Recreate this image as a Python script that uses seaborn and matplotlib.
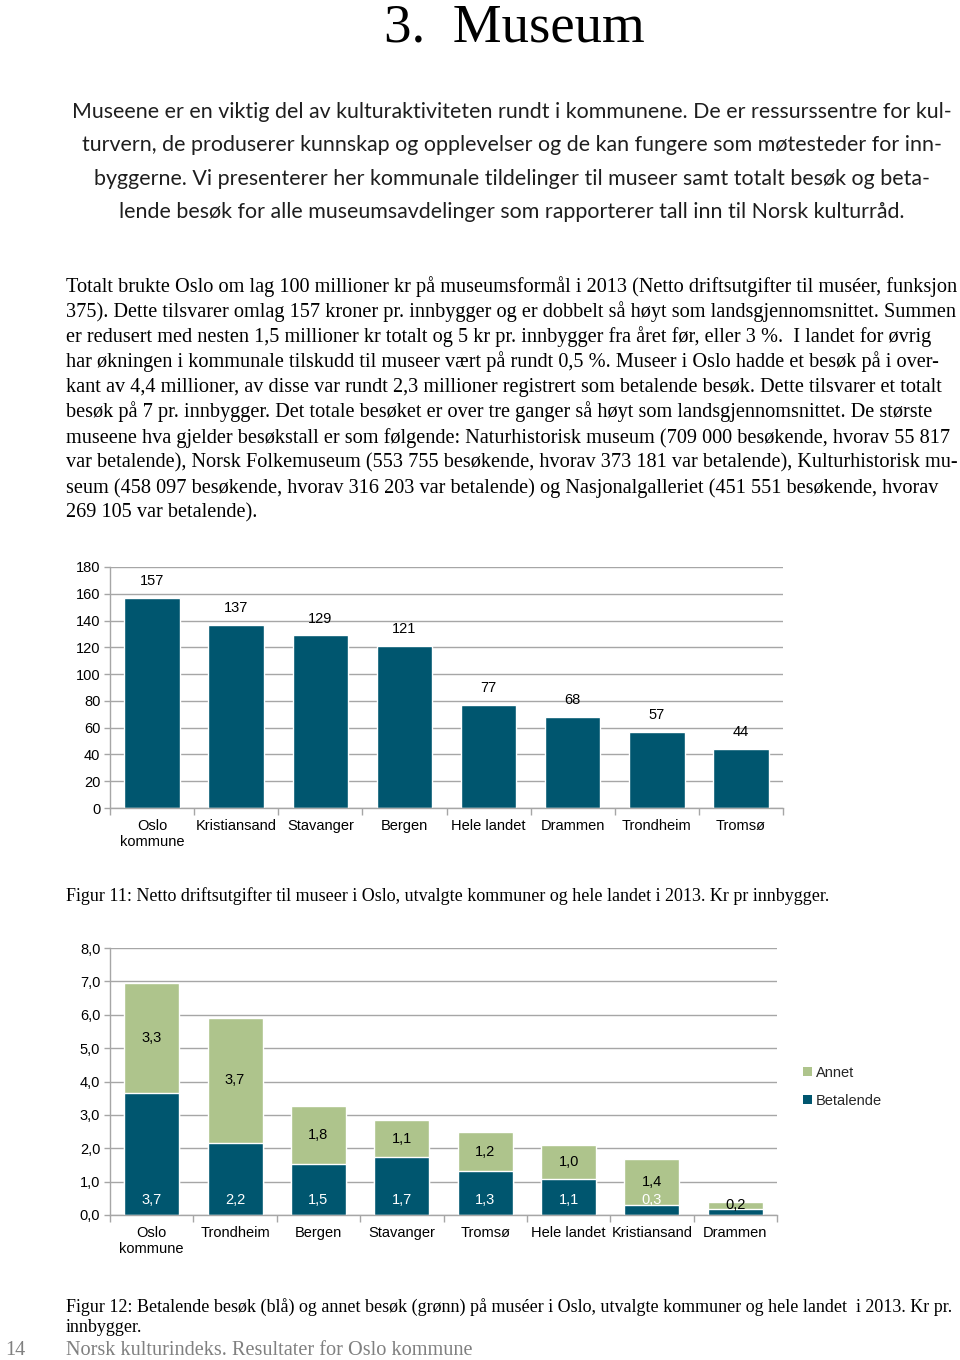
import matplotlib
matplotlib.use("Agg")
import matplotlib.pyplot as plt
from matplotlib.patches import Patch
from matplotlib.ticker import FixedLocator
import seaborn as sns
import pandas as pd

# ---------------- data ----------------
fig1_categories = ["Oslo\nkommune", "Kristiansand", "Stavanger", "Bergen",
                   "Hele landet", "Drammen", "Trondheim", "Tromsø"]
fig1_values = [157, 137, 129, 121, 77, 68, 57, 44]
fig1_yticks = [0, 20, 40, 60, 80, 100, 120, 140, 160, 180]

fig2_categories = ["Oslo\nkommune", "Trondheim", "Bergen", "Stavanger",
                   "Tromsø", "Hele landet", "Kristiansand", "Drammen"]
fig2_betalende = [3.66, 2.17, 1.52, 1.73, 1.31, 1.08, 0.31, 0.18]
fig2_annet = [3.30, 3.72, 1.76, 1.12, 1.18, 1.03, 1.38, 0.22]
fig2_yticks = [0, 1, 2, 3, 4, 5, 6, 7, 8]
fig2_series = ["Annet", "Betalende"]

title_text = "3.  Museum"
intro_lines = [
    "Museene er en viktig del av kulturaktiviteten rundt i kommunene. De er ressurssentre for kul-",
    "turvern, de produserer kunnskap og opplevelser og de kan fungere som møtesteder for inn-",
    "byggerne. Vi presenterer her kommunale tildelinger til museer samt totalt besøk og beta-",
    "lende besøk for alle museumsavdelinger som rapporterer tall inn til Norsk kulturråd.",
]
body_lines = [
    "Totalt brukte Oslo om lag 100 millioner kr på museumsformål i 2013 (Netto driftsutgifter til muséer, funksjon",
    "375). Dette tilsvarer omlag 157 kroner pr. innbygger og er dobbelt så høyt som landsgjennomsnittet. Summen",
    "er redusert med nesten 1,5 millioner kr totalt og 5 kr pr. innbygger fra året før, eller 3 %.  I landet for øvrig",
    "har økningen i kommunale tilskudd til museer vært på rundt 0,5 %. Museer i Oslo hadde et besøk på i over-",
    "kant av 4,4 millioner, av disse var rundt 2,3 millioner registrert som betalende besøk. Dette tilsvarer et totalt",
    "besøk på 7 pr. innbygger. Det totale besøket er over tre ganger så høyt som landsgjennomsnittet. De største",
    "museene hva gjelder besøkstall er som følgende: Naturhistorisk museum (709 000 besøkende, hvorav 55 817",
    "var betalende), Norsk Folkemuseum (553 755 besøkende, hvorav 373 181 var betalende), Kulturhistorisk mu-",
    "seum (458 097 besøkende, hvorav 316 203 var betalende) og Nasjonalgalleriet (451 551 besøkende, hvorav",
    "269 105 var betalende).",
]
caption1 = "Figur 11: Netto driftsutgifter til museer i Oslo, utvalgte kommuner og hele landet i 2013. Kr pr innbygger."
caption2_lines = [
    "Figur 12: Betalende besøk (blå) og annet besøk (grønn) på muséer i Oslo, utvalgte kommuner og hele landet  i 2013. Kr pr.",
    "innbygger.",
]
footer_page = "14"
footer_text = "Norsk kulturindeks. Resultater for Oslo kommune"

# ---------------- style ----------------
BLUE = "#00566F"
GREEN = "#AEC48C"
GRID = "#A6A6A6"
W, H = 960, 1360

sns.set_theme(style="white")
plt.rcParams["font.family"] = ["Liberation Sans", "DejaVu Sans"]

fig = plt.figure(figsize=(W / 100, H / 100), dpi=100)
fig.patch.set_facecolor("white")
renderer = fig.canvas.get_renderer()


def fx(px):
    return px / W


def fy(py):
    return 1 - py / H


def fit_size(text, family, target_px, weight="normal", base=20.0):
    t = fig.text(0, 0, text, fontsize=base, family=family, weight=weight)
    w = t.get_window_extent(renderer).width
    t.remove()
    return base * target_px / w


SERIF = ["Liberation Serif", "DejaVu Serif"]

# ---------------- title ----------------
fig.text(fx(514), fy(41), title_text, family=SERIF, fontsize=39.5,
         ha="center", va="baseline", color="black")

# ---------------- intro (centered sans) ----------------
INTRO_FAM = ["Lato", "DejaVu Sans"]
intro_fs = fit_size(intro_lines[0], INTRO_FAM, 881)
for i, line in enumerate(intro_lines):
    fig.text(fx(512), fy(118 + i * 33.3), line, family=INTRO_FAM,
             fontsize=intro_fs, ha="center", va="baseline", color="#1e1e1e")

# ---------------- body (serif, left) ----------------
body_fs = fit_size(body_lines[0], SERIF, 890)
for i, line in enumerate(body_lines):
    fig.text(fx(66), fy(292 + i * 25.1), line, family=SERIF, fontsize=body_fs,
             ha="left", va="baseline", color="black")

# ---------------- chart 1 ----------------
ax1 = fig.add_axes([fx(110), fy(808), (783 - 110) / W, (808 - 567) / H])
df1 = pd.DataFrame({"kommune": fig1_categories, "kr": fig1_values})
sns.barplot(data=df1, x="kommune", y="kr", order=fig1_categories, color=BLUE,
            saturation=1, width=0.66, ax=ax1)
ax1.set_xlim(-0.5, len(fig1_categories) - 0.5)
ax1.set_ylim(0, 180)
ax1.set_yticks(fig1_yticks)
ax1.set_yticklabels([str(v) for v in fig1_yticks])
for i, v in enumerate(fig1_values):
    ax1.annotate(str(v), (i, v), xytext=(0, 12), textcoords="offset points",
                 ha="center", va="center", fontsize=10.5, color="black")

# ---------------- chart 2 ----------------
ax2 = fig.add_axes([fx(110), fy(1215), (777 - 110) / W, (1215 - 948) / H])
totals = [b + a for b, a in zip(fig2_betalende, fig2_annet)]
df2 = pd.DataFrame({"kommune": fig2_categories, "total": totals,
                    "betalende": fig2_betalende, "annet": fig2_annet})
sns.barplot(data=df2, x="kommune", y="total", order=fig2_categories, color=GREEN,
            saturation=1, width=0.66, ax=ax2)
sns.barplot(data=df2, x="kommune", y="betalende", order=fig2_categories, color=BLUE,
            saturation=1, width=0.66, ax=ax2)
ax2.set_xlim(-0.5, len(fig2_categories) - 0.5)
ax2.set_ylim(0, 8)
ax2.set_yticks(fig2_yticks)
ax2.set_yticklabels([f"{v:.1f}".replace(".", ",") for v in fig2_yticks])
for i, (b, a) in enumerate(zip(fig2_betalende, fig2_annet)):
    if b >= 0.25:
        # white label at the inside base of the blue segment
        ax2.annotate(f"{b:.1f}".replace(".", ","), (i, 0), xytext=(0, 11),
                     textcoords="offset points", ha="center", va="center",
                     fontsize=10.5, color="white")
    ax2.annotate(f"{a:.1f}".replace(".", ","), (i, b + a / 2), ha="center",
                 va="center", fontsize=10.5, color="black")

handles = [Patch(facecolor=GREEN, edgecolor="none", label=fig2_series[0]),
           Patch(facecolor=BLUE, edgecolor="none", label=fig2_series[1])]
fig.legend(handles=handles, loc="upper left", bbox_to_anchor=(fx(797), fy(1060)),
           frameon=False, fontsize=10.5, handlelength=0.6, handleheight=0.6,
           handletextpad=0.3, labelspacing=0.95, borderaxespad=0)

# ---------------- common axis styling ----------------
for ax in (ax1, ax2):
    ax.set_xlabel("")
    ax.set_ylabel("")
    ax.set_axisbelow(True)
    ax.yaxis.grid(True, color=GRID, linewidth=1)
    ax.xaxis.grid(False)
    for s in ("top", "right"):
        ax.spines[s].set_visible(False)
    for s in ("left", "bottom"):
        ax.spines[s].set_visible(True)
        ax.spines[s].set_color(GRID)
        ax.spines[s].set_linewidth(1)
    n = len(ax.get_xticks())
    ax.xaxis.set_minor_locator(FixedLocator([k - 0.5 for k in range(n + 1)]))
    ax.tick_params(axis="x", which="major", length=0, pad=8, labelsize=10.5,
                   labelcolor="black")
    ax.tick_params(axis="x", which="minor", length=5, width=1, color=GRID,
                   direction="out", bottom=True)
    ax.tick_params(axis="y", which="major", length=4, width=1, color=GRID,
                   direction="out", left=True, pad=3, labelsize=10.5,
                   labelcolor="black")

# ---------------- captions & footer ----------------
cap_fs = fit_size(caption1, SERIF, 767)
fig.text(fx(66), fy(901), caption1, family=SERIF, fontsize=cap_fs,
         ha="left", va="baseline", color="black")
for i, line in enumerate(caption2_lines):
    fig.text(fx(66), fy(1312 + i * 20), line, family=SERIF, fontsize=cap_fs,
             ha="left", va="baseline", color="black")
foot_fs = fit_size(footer_text, SERIF, 406)
fig.text(fx(5), fy(1355), footer_page, family=SERIF, fontsize=foot_fs,
         ha="left", va="baseline", color="#808080")
fig.text(fx(66), fy(1355), footer_text, family=SERIF, fontsize=foot_fs,
         ha="left", va="baseline", color="#808080")

fig.savefig("out.png", dpi=100, facecolor="white")
